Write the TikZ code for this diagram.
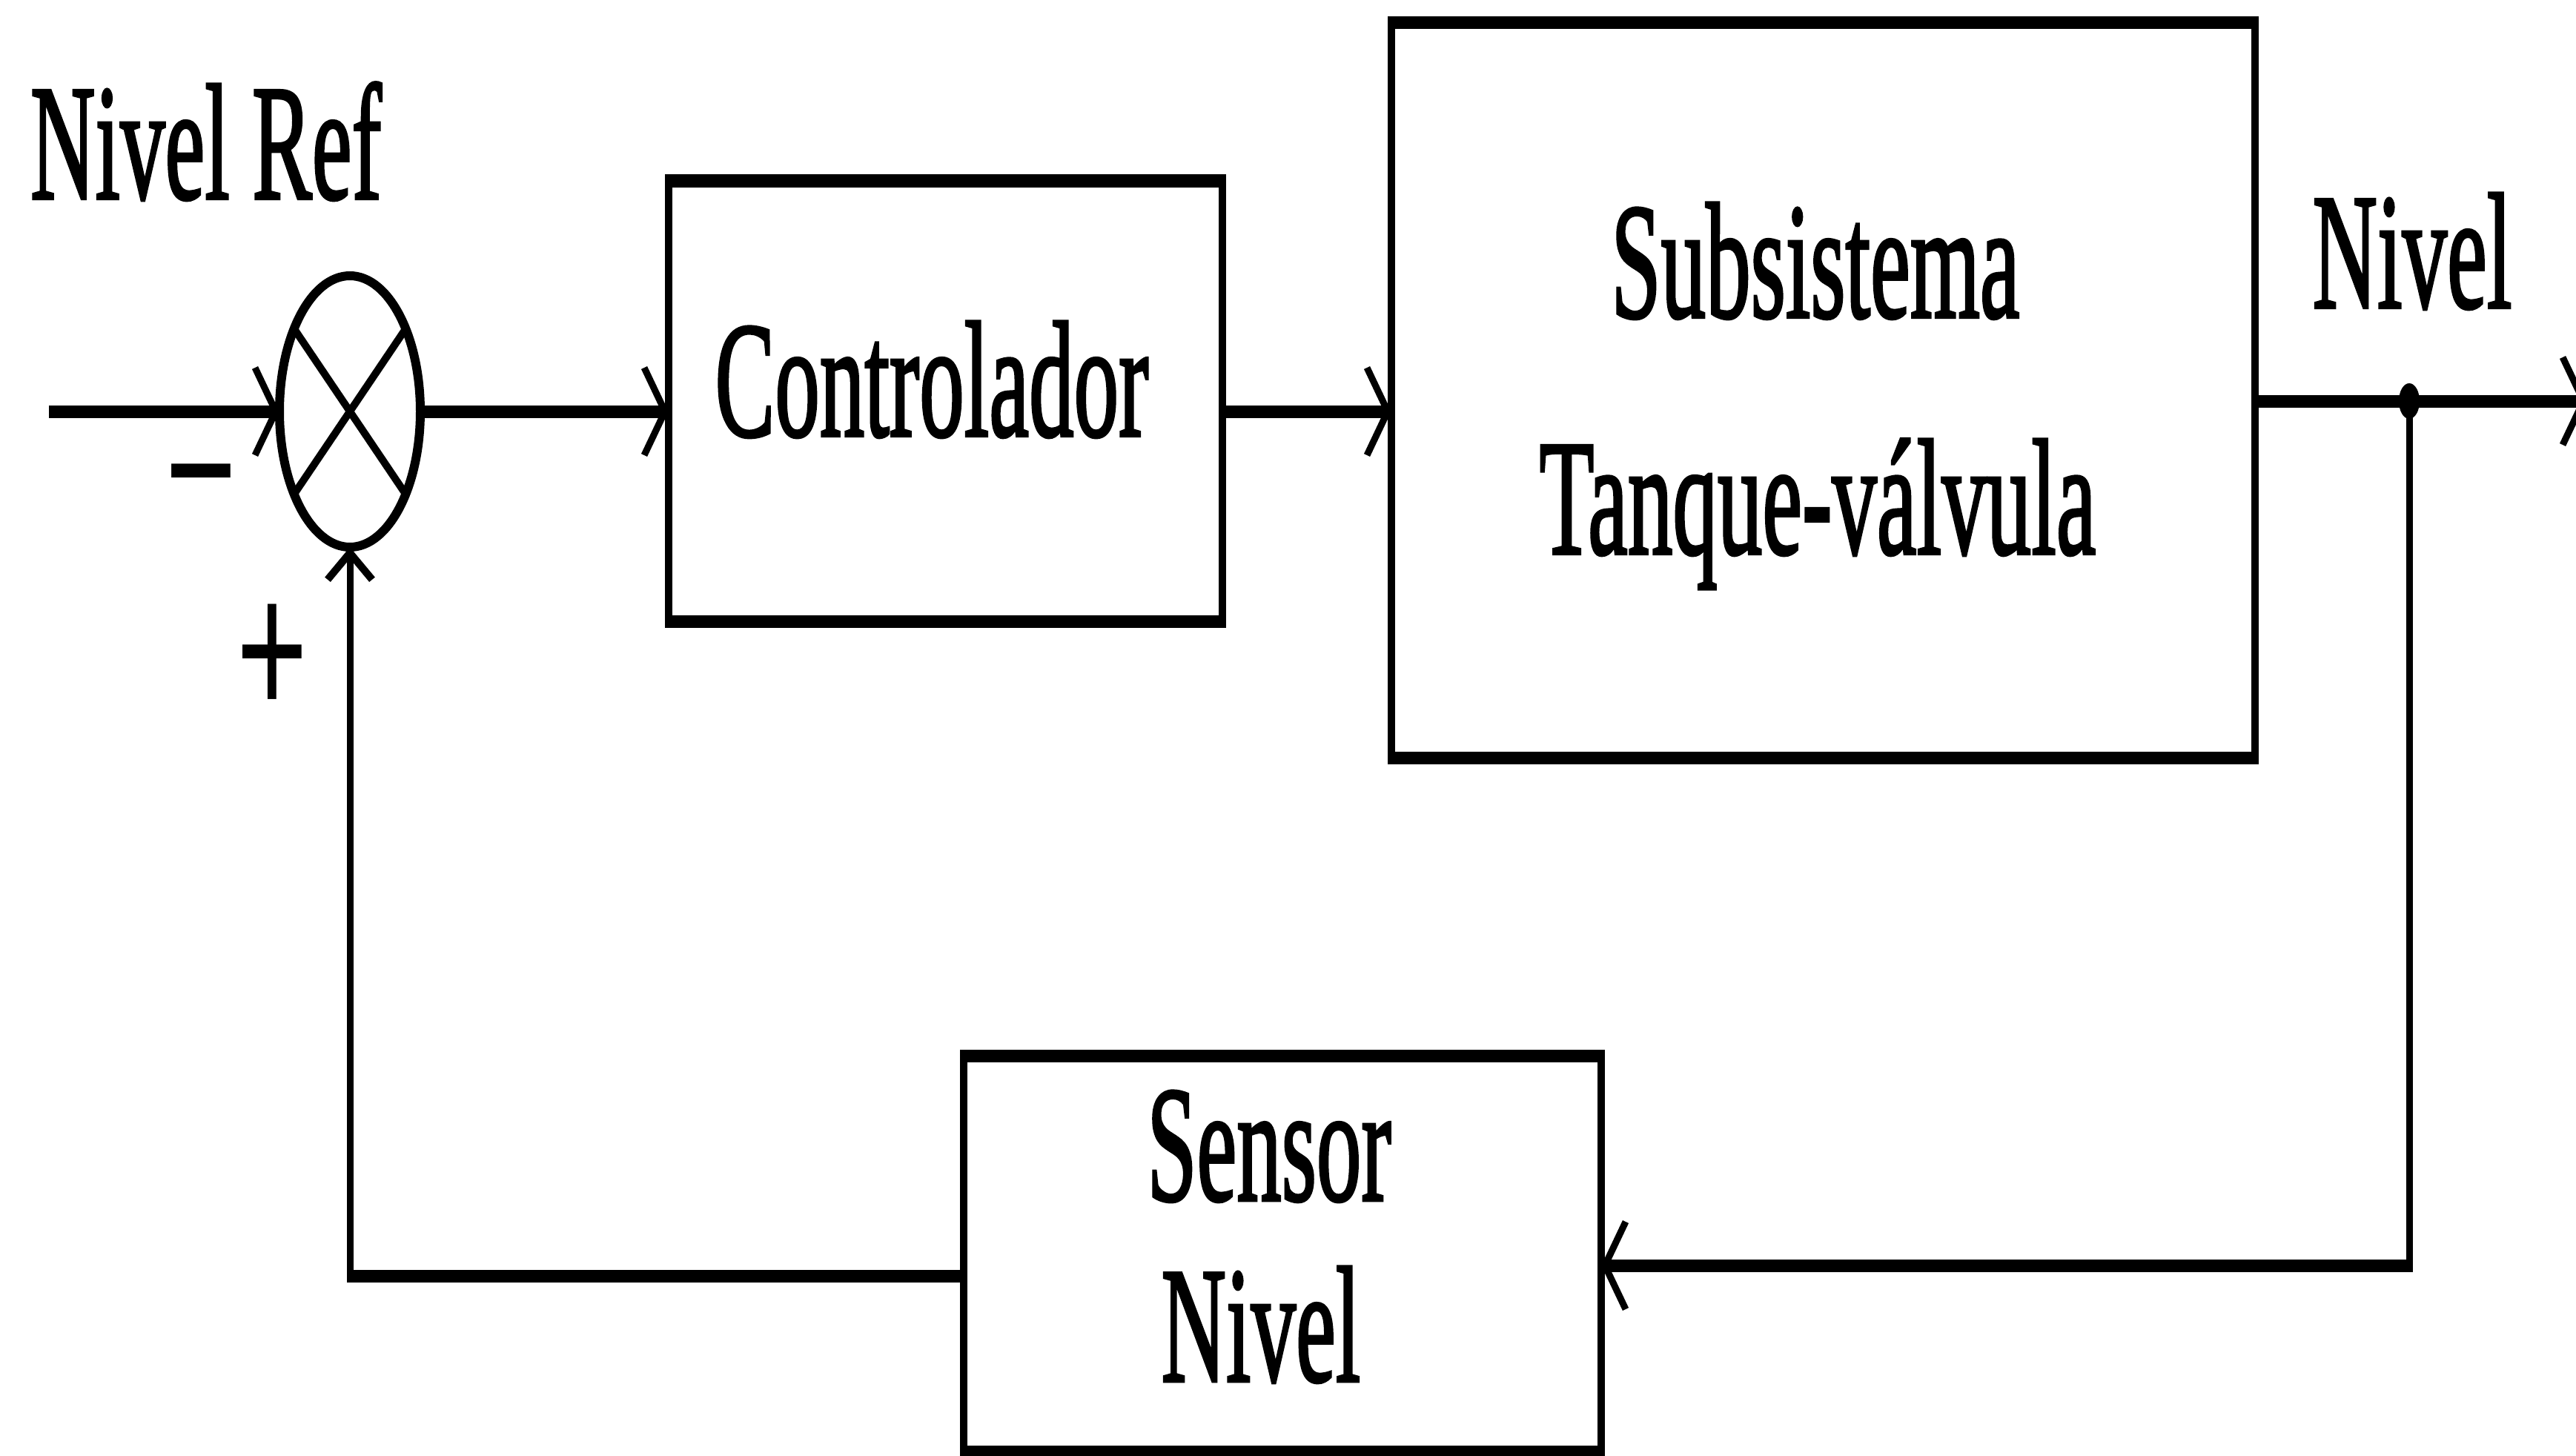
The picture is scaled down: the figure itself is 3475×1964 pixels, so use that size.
\documentclass[tikz,border=0pt]{standalone}
\usepackage{fontspec}
\newfontfamily\dfont[FakeBold=2]{Liberation Serif}
\newfontfamily\sfont{Liberation Sans}
\usetikzlibrary{arrows.meta,shapes.geometric}
\newcommand\vstr[1]{\scalebox{1}[1.84]{#1}}
\begin{document}
\begin{tikzpicture}[x=1pt,y=-1pt,
  hw/.style={line width=17pt},
  vw/.style={line width=9pt},
  htip/.style={-{Straight Barb[length=28pt,width=118pt,line width=9pt]}},
  vtip/.style={-{Straight Barb[length=36pt,width=60pt,line width=10pt]}},
  blockbox/.style={draw,line width=10pt,inner sep=0pt,outer sep=0pt},
  lbl/.style={inner sep=0pt,anchor=base,font=\dfont\fontsize{121pt}{121pt}\selectfont},
  sgn/.style={inner sep=0pt,anchor=base,font=\sfont\fontsize{164pt}{164pt}\selectfont}]
\useasboundingbox (0,0) rectangle (3475,1964);
\fill[white] (0,0) rectangle (3475,1964);

% blocks
\node[blockbox,minimum width=747pt,minimum height=594pt] (ctrl) at (1275.5,541) {};
\node[blockbox,minimum width=1165pt,minimum height=991pt] (subs) at (2459.5,526.5) {};
\node[blockbox,minimum width=860pt,minimum height=534pt] (sens) at (1730,1691) {};
\node[draw,ellipse,line width=12pt,minimum width=190pt,minimum height=366pt,inner sep=0pt,outer sep=0pt] (sum) at (472,555) {};
\draw[line width=10pt] (sum.124) -- (sum.-56) (sum.56) -- (sum.-124);

% thicker horizontal edges of the blocks
\foreach \b in {ctrl,subs,sens}{
  \draw[hw] ([xshift=-5pt]\b.north west) -- ([xshift=5pt]\b.north east);
  \draw[hw] ([xshift=-5pt]\b.south west) -- ([xshift=5pt]\b.south east);
}

% labels
\node[lbl] (tref) at (278,268) {\vstr{Nivel Ref}};
\node[lbl] (tctrl) at (1257,588) {\vstr{Controlador}};
\node[lbl] (tsub1) at (2449,428) {\vstr{Subsistema}};
\node[lbl] (tsub2) at (2452,747) {\vstr{Tanque-válvula}};
\node[lbl] (tout) at (3254,415) {\vstr{Nivel}};
\node[lbl] (tsen1) at (1712,1619) {\vstr{Sensor}};
\node[lbl] (tsen2) at (1701,1863) {\vstr{Nivel}};
\node[sgn] (minus) at (271,722) {\scalebox{1}[1.6]{−}};
\node[sgn] (plus) at (367,966) {\scalebox{1}[1.6]{+}};

% connectors
\coordinate (in) at (66,555);
\draw[hw,htip] (in) -- (sum.west);
\draw[hw,htip] (sum.east) -- (sum.east -| ctrl.west);
\draw[hw,htip] (ctrl.east |- sum.east) -- (sum.east -| subs.west);
\coordinate (j) at (3250,541);
\coordinate (out) at (3490,541);
\draw[hw] (j -| subs.east) -- (j);
\draw[hw,htip] (j) -- (out);
\fill (j) ellipse [x radius=14pt, y radius=24pt];
\coordinate (rc) at (3250,1707);
\draw[vw] (j) -- ([yshift=-8.5pt]rc);
\draw[hw,htip] ([xshift=4.5pt]rc) -- (rc -| sens.east);
\coordinate (lc) at (472,1721);
\draw[hw] (sens.west |- lc) -- ([xshift=-4.5pt]lc);
\draw[vw,vtip] ([yshift=-8.5pt]lc) -- (sum.south);
\end{tikzpicture}
\end{document}
